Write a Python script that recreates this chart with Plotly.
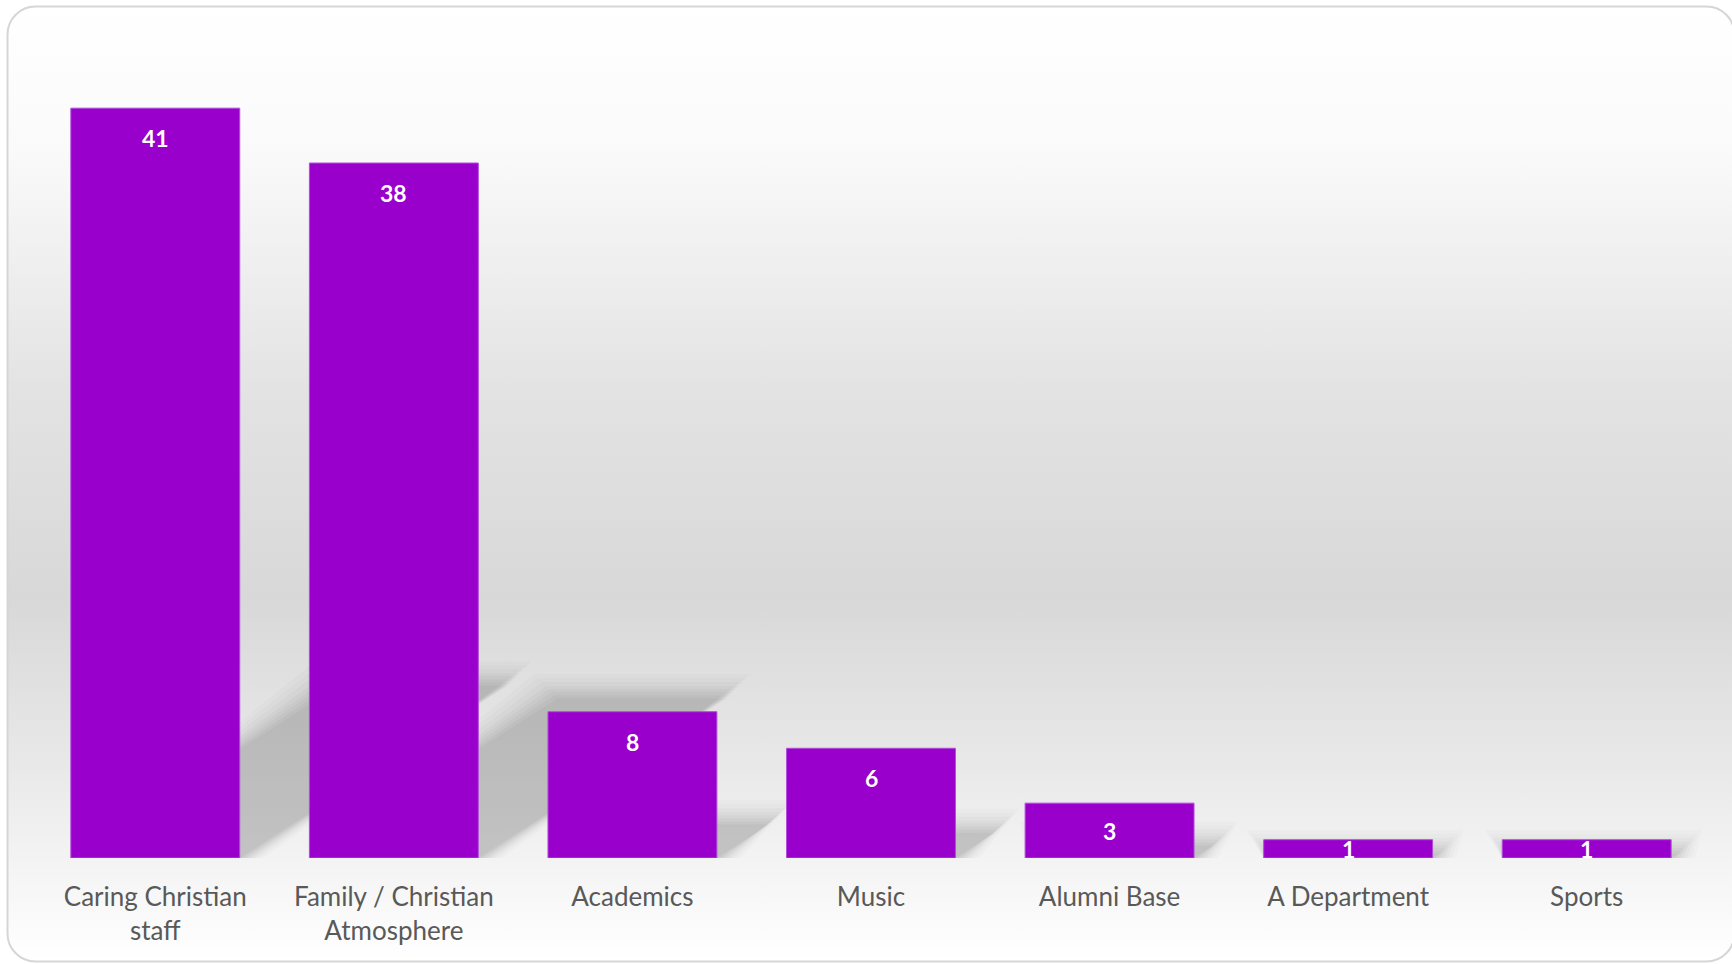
import base64
import plotly.graph_objects as go

categories = ["Caring Christian<br>staff", "Family / Christian<br>Atmosphere", "Academics",
              "Music", "Alumni Base", "A Department", "Sports"]
values = [41, 38, 8, 6, 3, 1, 1]

W, H = 1732, 964
ML, MR, MT, MB = 36, 26, 35, 106
PW, PH = W - ML - MR, H - MT - MB
YMAX = 45
BAR_COLOR = "#9900CC"
HALF = 0.354
FONT = "Lato, Carlito, sans-serif"

# background: rounded panel with vertical gradient
svg = f'''<svg xmlns="http://www.w3.org/2000/svg" width="{W}" height="{H}" viewBox="0 0 {W} {H}">
<defs><linearGradient id="g" x1="0" y1="0" x2="0" y2="1">
<stop offset="0" stop-color="#ffffff"/>
<stop offset="0.15" stop-color="#fafafa"/>
<stop offset="0.40" stop-color="#e3e3e3"/>
<stop offset="0.62" stop-color="#d8d8d8"/>
<stop offset="0.80" stop-color="#e9e9e9"/>
<stop offset="1" stop-color="#ffffff"/>
</linearGradient></defs>
<rect x="7.5" y="6.5" width="1727" height="955" rx="28" ry="28" fill="url(#g)" stroke="#d6d6d6" stroke-width="2"/>
</svg>'''
src = "data:image/svg+xml;base64," + base64.b64encode(svg.encode()).decode()

xs = list(range(len(categories)))
px_per_x = PW / len(categories)
px_per_y = PH / YMAX

fig = go.Figure()
fig.add_trace(go.Bar(
    x=xs, y=values, width=2 * HALF,
    marker=dict(color=BAR_COLOR, line=dict(color="#b04ddb", width=1)),
    hoverinfo="x+y",
))

# perspective shadows (derived from values), layered for a soft edge
shapes = []
layers = [(24, 0.02), (20, 0.025), (16, 0.03), (12, 0.035), (9, 0.04), (6, 0.045), (3, 0.05), (0, 0.05)]
for i, v in enumerate(values):
    dx = v * 0.0274
    h = v * 0.23
    for p, a in layers:
        ex = p / px_per_x
        ey = p / px_per_y
        pts = [(i - HALF, 0), (i + HALF + ex, 0),
               (i + HALF + dx + ex, h + ey), (i - HALF + dx - ex, h + ey)]
        path = "M " + " L ".join(f"{x:.4f},{y:.4f}" for x, y in pts) + " Z"
        shapes.append(dict(type="path", path=path, xref="x", yref="y", layer="below",
                           fillcolor=f"rgba(70,70,70,{a})", line=dict(width=0)))

annotations = []
for i, v in enumerate(values):
    shift = min(30, v * px_per_y / 2)
    annotations.append(dict(x=i, y=v, xref="x", yref="y", text=f"<b>{v}</b>", showarrow=False,
                            yshift=-shift, font=dict(family=FONT, size=23, color="white")))

fig.update_layout(
    width=W, height=H,
    margin=dict(l=ML, r=MR, t=MT, b=MB, autoexpand=False),
    paper_bgcolor="white", plot_bgcolor="rgba(0,0,0,0)",
    showlegend=False, bargap=0.29,
    shapes=shapes, annotations=annotations,
    images=[dict(source=src, xref="paper", yref="paper", x=-ML / PW, y=1 + MT / PH,
                 sizex=W / PW, sizey=H / PH, xanchor="left", yanchor="top",
                 sizing="stretch", layer="below")],
    xaxis=dict(range=[-0.5, len(categories) - 0.5], tickvals=xs, ticktext=categories,
               showgrid=False, zeroline=False, showline=False,
               ticks="outside", ticklen=16, tickcolor="rgba(0,0,0,0)",
               tickfont=dict(family=FONT, size=26, color="#595959")),
    yaxis=dict(range=[0, YMAX], visible=False, showgrid=False, zeroline=False),
)

fig.write_html("out.html", config={"displayModeBar": False},
               post_script="document.body.style.margin='0';document.body.style.overflow='hidden';")
